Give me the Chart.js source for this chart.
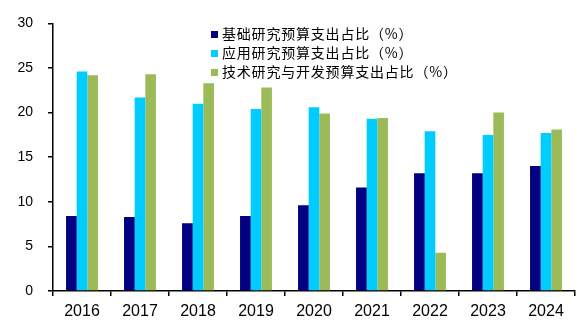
<!DOCTYPE html>
<html>
<head>
<meta charset="utf-8">
<script src="https://cdn.jsdelivr.net/npm/chart.js@4/dist/chart.umd.min.js"></script>
<style>
  body { margin: 0; background: #fff; }
  #wrap { position: relative; width: 582px; height: 330px; }
  #legend { position: absolute; left: 211px; top: 24px; font-family: "Noto Sans CJK SC", sans-serif; font-size: 14px; color: #000; letter-spacing: 0.8px; }
  #legend div { height: 19px; line-height: 19px; white-space: nowrap; }
  #legend span { display: inline-block; width: 7px; height: 7px; margin-right: 4px; vertical-align: 1px; }
</style>
</head>
<body>
<div id="wrap">
  <canvas id="bar-chart" width="582" height="330"></canvas>
  <div id="legend"></div>
</div>
<script>
const years = ['2016', '2017', '2018', '2019', '2020', '2021', '2022', '2023', '2024'];
const basic = [8.4, 8.3, 7.6, 8.4, 9.6, 11.6, 13.2, 13.2, 14.0];
const applied = [24.6, 21.7, 21.0, 20.4, 20.6, 19.3, 17.9, 17.5, 17.7];
const tech = [24.2, 24.3, 23.3, 22.8, 19.9, 19.4, 4.3, 20.0, 18.1];
const labels = ['基础研究预算支出占比（%）', '应用研究预算支出占比（%）', '技术研究与开发预算支出占比（%）'];
const colors = ['#000080', '#00CCFF', '#9BBB59'];

const tickFont = { family: 'Liberation Sans, Arial, sans-serif', size: 14 };

const config = {
  type: 'bar',
  data: {
    labels: years,
    datasets: [basic, applied, tech].map((d, i) => ({
      label: labels[i],
      data: d,
      backgroundColor: colors[i],
      borderWidth: 0,
      categoryPercentage: 0.55,
      barPercentage: 1.0
    }))
  },
  options: {
    responsive: false,
    animation: false,
    layout: { padding: { top: 21, right: 7, left: 0, bottom: 0 } },
    plugins: {
      legend: { display: false },
      tooltip: { enabled: false }
    },
    scales: {
      x: {
        grid: { drawOnChartArea: false, drawTicks: true, tickLength: 5, color: '#000', lineWidth: 1.5 },
        border: { color: '#000', width: 1.5 },
        ticks: { color: '#000', font: { family: tickFont.family, size: 16 }, padding: 6 },
        afterFit: s => { s.height = 39; }
      },
      y: {
        min: 0,
        max: 30,
        ticks: { stepSize: 5, color: '#000', font: tickFont, padding: 15 },
        grid: { drawOnChartArea: false, drawTicks: true, tickLength: 5, color: '#000', lineWidth: 1.5 },
        border: { color: '#000', width: 1.5 },
        afterFit: s => { s.width = 53; }
      }
    }
  }
};

const ctx = document.getElementById('bar-chart').getContext('2d');
const myChart = new Chart(ctx, config);

const legend = document.getElementById('legend');
labels.forEach((l, i) => {
  const row = document.createElement('div');
  row.innerHTML = '<span style="background:' + colors[i] + '"></span>' + l;
  legend.appendChild(row);
});
</script>
</body>
</html>
